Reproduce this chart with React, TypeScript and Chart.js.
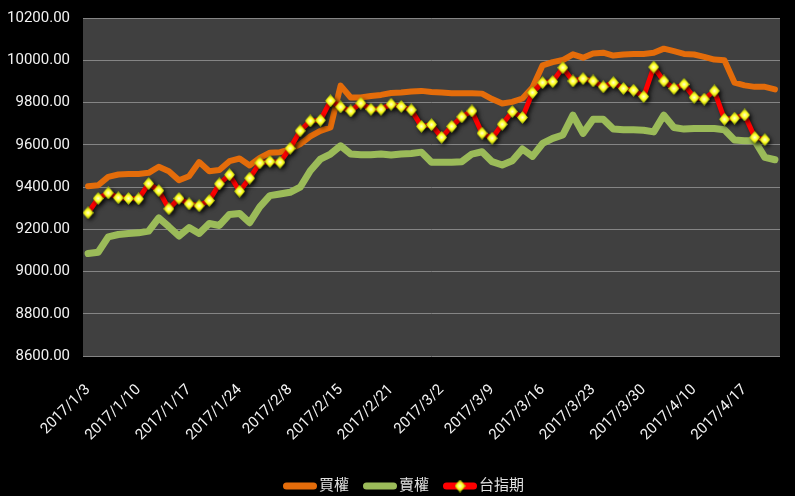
import { useEffect, useRef } from 'react';
import { Chart, registerables } from 'chart.js';

Chart.register(...registerables);

const dates = [
  '2017/1/3', '2017/1/4', '2017/1/5', '2017/1/6', '2017/1/9', '2017/1/10', '2017/1/11', '2017/1/12', '2017/1/13',
  '2017/1/16', '2017/1/17', '2017/1/18', '2017/1/19', '2017/1/20', '2017/1/23', '2017/1/24',
  '2017/2/2', '2017/2/3', '2017/2/6', '2017/2/7', '2017/2/8', '2017/2/9', '2017/2/10',
  '2017/2/13', '2017/2/14', '2017/2/15', '2017/2/16', '2017/2/17', '2017/2/18', '2017/2/20', '2017/2/21',
  '2017/2/22', '2017/2/23', '2017/2/24', '2017/3/1', '2017/3/2', '2017/3/3',
  '2017/3/6', '2017/3/7', '2017/3/8', '2017/3/9', '2017/3/10', '2017/3/13', '2017/3/14', '2017/3/15', '2017/3/16',
  '2017/3/17', '2017/3/20', '2017/3/21', '2017/3/22', '2017/3/23', '2017/3/24', '2017/3/27', '2017/3/28',
  '2017/3/29', '2017/3/30', '2017/3/31', '2017/4/5', '2017/4/6', '2017/4/7', '2017/4/10', '2017/4/11',
  '2017/4/12', '2017/4/13', '2017/4/14', '2017/4/17', '2017/4/18', '2017/4/19', '2017/4/20',
];

const seriesNames = ['買權', '賣權', '台指期'];

const callValues = [
  9404, 9408, 9448, 9459, 9462, 9462, 9467, 9496, 9475, 9432, 9451, 9518, 9475, 9480, 9522, 9535,
  9502, 9538, 9562, 9565, 9578, 9603, 9640, 9666, 9682, 9880, 9824, 9824, 9831, 9836, 9845,
  9847, 9852, 9855, 9850, 9847, 9844, 9844, 9844, 9842, 9816, 9795, 9803, 9819, 9871, 9976,
  9991, 10001, 10028, 10012, 10032, 10036, 10022, 10027, 10030, 10030, 10035, 10055, 10043, 10030,
  10027, 10016, 10003, 10000, 9894, 9881, 9874, 9874, 9862,
];

const putValues = [
  9085, 9091, 9164, 9175, 9180, 9183, 9191, 9254, 9212, 9168, 9208, 9180, 9227, 9218, 9270, 9275,
  9231, 9306, 9359, 9367, 9375, 9399, 9477, 9532, 9556, 9595, 9556, 9553, 9553, 9556, 9551,
  9556, 9559, 9565, 9517, 9517, 9517, 9520, 9556, 9567, 9520, 9504, 9524, 9580, 9545, 9606,
  9630, 9646, 9740, 9654, 9721, 9721, 9674, 9671, 9671, 9669, 9661, 9740, 9682, 9674,
  9677, 9677, 9677, 9671, 9622, 9619, 9619, 9540, 9529,
];

const futuresValues = [
  9278, 9346, 9372, 9349, 9346, 9344, 9416, 9383, 9297, 9346, 9320, 9311, 9336, 9415, 9458, 9380,
  9442, 9514, 9521, 9517, 9583, 9666, 9713, 9716, 9808, 9779, 9760, 9797, 9768, 9768, 9792,
  9781, 9765, 9687, 9695, 9635, 9687, 9732, 9760, 9655, 9631, 9697, 9757, 9729, 9847, 9894,
  9899, 9965, 9902, 9913, 9902, 9874, 9894, 9866, 9858, 9828, 9968, 9902, 9866, 9886,
  9824, 9816, 9855, 9721, 9726, 9741, 9635, 9624,
];

const yMin = 8600;
const yMax = 10200;
const yStep = 200;
const labelEvery = 5;

const colors = ['#E46C0A', '#9BBB59', '#FF0000'];
const FONT = "Roboto, 'Noto Sans CJK TC', sans-serif";

function makeDiamond(): HTMLCanvasElement {
  const c = document.createElement('canvas');
  const w = 11;
  const h = 13;
  c.width = w;
  c.height = h;
  const g = c.getContext('2d')!;
  const grad = g.createRadialGradient(w / 2, h / 2, 0, w / 2, h / 2, h / 2);
  grad.addColorStop(0, '#ffffd8');
  grad.addColorStop(0.45, '#ffff22');
  grad.addColorStop(1, '#7f9600');
  g.fillStyle = grad;
  g.beginPath();
  g.moveTo(w / 2, 0);
  g.lineTo(w, h / 2);
  g.lineTo(w / 2, h);
  g.lineTo(0, h / 2);
  g.closePath();
  g.fill();
  return c;
}

export default function App() {
  const ref = useRef<HTMLCanvasElement | null>(null);

  useEffect(() => {
    document.body.style.margin = '0';
    document.body.style.background = '#000';
    const canvas = ref.current;
    if (!canvas) return;
    const diamond = makeDiamond();

    const bgPlugin = {
      id: 'plotBg',
      beforeDraw(chart: any) {
        const { ctx, chartArea: a, width, height } = chart;
        ctx.save();
        ctx.fillStyle = '#000';
        ctx.fillRect(0, 0, width, height);
        ctx.fillStyle = '#404040';
        ctx.fillRect(a.left, a.top, a.right - a.left, a.bottom - a.top);
        ctx.restore();
      },
    };

    const shadowPlugin = {
      id: 'seriesShadow',
      beforeDatasetDraw(chart: any, args: any) {
        if (args.index === 2) {
          const ctx = chart.ctx;
          ctx.save();
          ctx.shadowColor = 'rgba(0,0,0,0.75)';
          ctx.shadowBlur = 4;
          ctx.shadowOffsetX = 2;
          ctx.shadowOffsetY = 2;
        }
      },
      afterDatasetDraw(chart: any, args: any) {
        if (args.index === 2) chart.ctx.restore();
      },
    };

    const customLegend = {
      id: 'customLegend',
      afterDraw(chart: any) {
        const ctx = chart.ctx;
        ctx.save();
        ctx.font = `15px ${FONT}`;
        ctx.textBaseline = 'middle';
        ctx.textAlign = 'left';
        const sw = 34;
        const gapText = 2;
        const gapItem = 14;
        const widths = seriesNames.map((n) => ctx.measureText(n).width);
        const total =
          widths.reduce((s, w) => s + sw + gapText + w, 0) + gapItem * (seriesNames.length - 1);
        let x = chart.width / 2 + 6 - total / 2;
        const y = chart.height - 10;
        seriesNames.forEach((name, i) => {
          ctx.strokeStyle = colors[i];
          ctx.lineWidth = 7;
          ctx.lineCap = 'round';
          ctx.beginPath();
          ctx.moveTo(x + 3.5, y);
          ctx.lineTo(x + sw - 3.5, y);
          ctx.stroke();
          if (i === 2) {
            ctx.drawImage(diamond, x + sw / 2 - diamond.width / 2, y - diamond.height / 2);
          }
          ctx.fillStyle = '#e0e0e0';
          ctx.fillText(name, x + sw + gapText, y);
          x += sw + gapText + widths[i] + gapItem;
        });
        ctx.restore();
      },
    };

    const chart = new Chart(canvas, {
      type: 'line',
      data: {
        labels: dates,
        datasets: [
          {
            label: seriesNames[0],
            data: callValues,
            borderColor: colors[0],
            backgroundColor: colors[0],
            borderWidth: 6,
            pointRadius: 0,
            tension: 0,
            borderJoinStyle: 'round',
            borderCapStyle: 'round',
            order: 3,
          },
          {
            label: seriesNames[1],
            data: putValues,
            borderColor: colors[1],
            backgroundColor: colors[1],
            borderWidth: 7,
            pointRadius: 0,
            tension: 0,
            borderJoinStyle: 'round',
            borderCapStyle: 'round',
            order: 2,
          },
          {
            label: seriesNames[2],
            data: futuresValues,
            borderColor: colors[2],
            backgroundColor: colors[2],
            borderWidth: 5,
            pointStyle: diamond as any,
            pointRadius: 6,
            tension: 0,
            borderJoinStyle: 'round',
            order: 1,
          },
        ],
      },
      options: {
        responsive: false,
        animation: false,
        layout: { padding: { top: 18, right: 15, left: 0, bottom: 0 } },
        scales: {
          x: {
            offset: true,
            grid: { display: false },
            border: { display: false },
            ticks: {
              autoSkip: false,
              maxRotation: 45,
              minRotation: 45,
              padding: 17,
              color: '#f2f2f2',
              font: { family: FONT, size: 15 },
              callback: (_v: any, i: number) => (i % labelEvery === 0 ? dates[i] : null),
            },
            afterFit: (s: any) => {
              s.height = 140;
            },
          },
          y: {
            min: yMin,
            max: yMax,
            grid: {
              color: '#858585',
              lineWidth: 1,
              drawTicks: true,
              tickLength: 10,
              tickColor: 'rgba(0,0,0,0)',
            },
            border: { display: false },
            ticks: {
              stepSize: yStep,
              padding: 3,
              color: '#f2f2f2',
              font: { family: FONT, size: 15 },
              callback: (v: any) => Number(v).toFixed(2),
            },
            afterFit: (s: any) => {
              s.width = 83;
            },
          },
        },
        plugins: {
          tooltip: { enabled: false },
          legend: { display: false },
        },
      },
      plugins: [bgPlugin, shadowPlugin, customLegend],
    });

    return () => chart.destroy();
  }, []);

  return (
    <div style={{ width: 795, height: 496, background: '#000' }}>
      <canvas ref={ref} width={795} height={496} style={{ display: 'block' }} />
    </div>
  );
}
